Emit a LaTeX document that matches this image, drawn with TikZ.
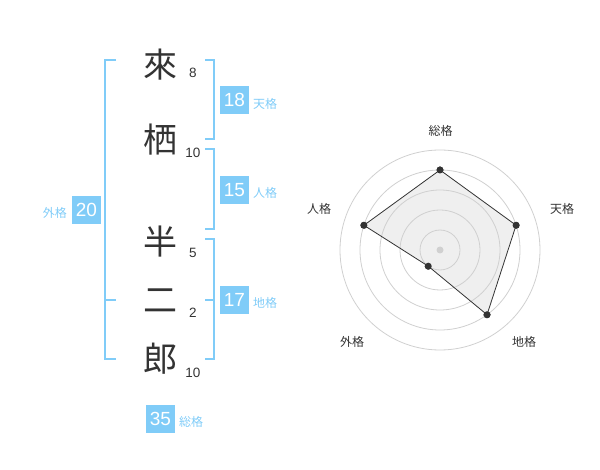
\documentclass[tikz,border=0pt]{standalone}
\usepackage{fontspec}
\setmainfont{Liberation Sans}
\newfontfamily\jp{Noto Sans CJK JP}
\definecolor{boxblue}{HTML}{80CCF8}
\definecolor{ink}{HTML}{333333}
\definecolor{ringgray}{HTML}{D0D0D0}
\definecolor{polyfill}{HTML}{EFEFEF}
\begin{document}
\begin{tikzpicture}[x=1pt,y=-1pt,
  kanji/.style={font=\jp\fontsize{34}{34}\selectfont, text=ink, inner sep=0pt},
  strokes/.style={font=\fontsize{13.5}{13.5}\selectfont, text=ink, inner sep=0pt},
  valbox/.style={fill=boxblue, text=white, minimum width=29pt, minimum height=28pt, inner sep=0pt, font=\fontsize{19}{19}\selectfont},
  kaku/.style={font=\jp\fontsize{12}{12}\selectfont, text=boxblue, inner sep=0pt},
  bracket/.style={draw=boxblue, line width=1.8pt},
  axislabel/.style={font=\jp\fontsize{12}{12}\selectfont, text=ink, inner sep=0pt},
  ring/.style={draw=ringgray, line width=0.8pt},
  dot/.style={circle, fill=ink, inner sep=0pt, minimum size=7pt}]
\useasboundingbox (0,0) rectangle (600,470);
% kanji
\node[kanji] (k1) at (160,65) {來};
\node[kanji] (k2) at (160,140) {栖};
\node[kanji] (k3) at (160,242) {半};
\node[kanji] (k4) at (160,301) {二};
\node[kanji] (k5) at (160,359) {郎};
\node[strokes] (s1) at (193,73) {8};
\node[strokes] (s2) at (193,153) {10};
\node[strokes] (s3) at (193,253) {5};
\node[strokes] (s4) at (193,313) {2};
\node[strokes] (s5) at (193,373) {10};
% brackets
\draw[bracket] (116,60) -- (105,60) -- (105,359) -- (116,359);
\draw[bracket] (105,300) -- (116,300);
\draw[bracket] (205,60) -- (214,60) -- (214,139) -- (205,139);
\draw[bracket] (205,149) -- (214,149) -- (214,229) -- (205,229);
\draw[bracket] (205,239) -- (214,239) -- (214,359) -- (205,359);
\draw[bracket] (205,300) -- (214,300);
% value boxes
\node[valbox] (ten) at (234.5,100) {18};
\node[kaku, anchor=west] (tenl) at (253,103.5) {天格};
\node[valbox] (jin) at (234.5,190) {15};
\node[kaku, anchor=west] (jinl) at (253,193) {人格};
\node[valbox] (chi) at (234.5,300) {17};
\node[kaku, anchor=west] (chil) at (253,303) {地格};
\node[valbox] (gai) at (86.5,210) {20};
\node[kaku, anchor=east] (gail) at (67,213) {外格};
\node[valbox] (sou) at (160.5,419) {35};
\node[kaku, anchor=west] (soul) at (179,422) {総格};
% radar
\begin{scope}[shift={(440,250)}]
  \coordinate (c) at (0,0);
  \node[dot] (pS) at (90:80pt) {};
  \node[dot] (pT) at (18:80pt) {};
  \node[dot] (pC) at (-54:80pt) {};
  \node[dot] (pG) at (-126:20pt) {};
  \node[dot] (pJ) at (162:80pt) {};
  \fill[polyfill] (pS.center) -- (pT.center) -- (pC.center) -- (pG.center) -- (pJ.center) -- cycle;
  \foreach \r in {20,40,60,80,100} \draw[ring] (c) circle[radius=\r pt];
  \draw[ink, line width=0.8pt] (pS.center) -- (pT.center) -- (pC.center) -- (pG.center) -- (pJ.center) -- cycle;
  \foreach \p in {pS,pT,pC,pG,pJ} \fill[ink] (\p) circle[radius=3.5pt];
  \fill[ringgray] (c) circle[radius=3.5pt];
\end{scope}
\node[axislabel] (lS) at (440.5,130.5) {総格};
\node[axislabel] (lT) at (562,209) {天格};
\node[axislabel] (lC) at (524,342) {地格};
\node[axislabel] (lG) at (352,342) {外格};
\node[axislabel] (lJ) at (319,209) {人格};
\end{tikzpicture}
\end{document}
